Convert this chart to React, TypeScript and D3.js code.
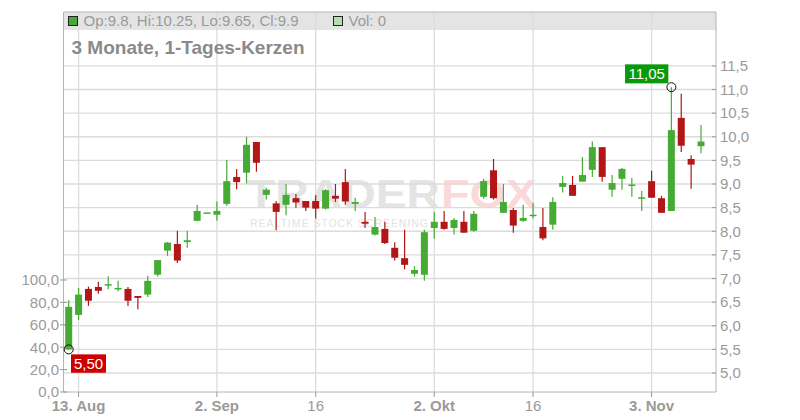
import React from 'react';
import * as d3 from 'd3';

const dates = [
  '2025-08-12','2025-08-13','2025-08-14','2025-08-15',
  '2025-08-18','2025-08-19','2025-08-20','2025-08-21','2025-08-22',
  '2025-08-25','2025-08-26','2025-08-27','2025-08-28','2025-08-29',
  '2025-09-01','2025-09-02','2025-09-03','2025-09-04','2025-09-05',
  '2025-09-08','2025-09-09','2025-09-10','2025-09-11','2025-09-12',
  '2025-09-15','2025-09-16','2025-09-17','2025-09-18','2025-09-19',
  '2025-09-22','2025-09-23','2025-09-24','2025-09-25','2025-09-26',
  '2025-09-29','2025-09-30','2025-10-01','2025-10-02','2025-10-03',
  '2025-10-06','2025-10-07','2025-10-08','2025-10-09','2025-10-10',
  '2025-10-13','2025-10-14','2025-10-15','2025-10-16','2025-10-17',
  '2025-10-20','2025-10-21','2025-10-22','2025-10-23','2025-10-24',
  '2025-10-27','2025-10-28','2025-10-29','2025-10-30','2025-10-31',
  '2025-11-03','2025-11-04','2025-11-05','2025-11-06','2025-11-07','2025-11-10',
];

const open = [
  5.50, 6.23, 6.78, 6.82, 6.86, 6.77, 6.78, 6.63, 6.66, 7.08,
  7.59, 7.73, 7.77, 8.22, 8.40, 8.35, 8.58, 9.15, 9.24, 9.89,
  8.77, 8.59, 8.56, 8.70, 8.64, 8.64, 8.48, 8.75, 9.04, 8.58,
  8.20, 7.93, 8.05, 7.65, 7.43, 7.10, 7.08, 8.07, 8.20, 8.07,
  8.20, 8.01, 8.73, 9.29, 8.39, 8.45, 8.22, 8.33, 8.09, 8.14,
  8.94, 8.98, 9.05, 9.30, 9.78, 8.88, 9.11, 8.97, 8.70, 9.06,
  8.70, 8.43, 10.40, 9.53, 9.80,
];
const high = [
  6.54, 6.80, 6.83, 6.93, 7.05, 6.95, 6.82, 6.63, 7.06, 7.39,
  7.77, 8.01, 8.01, 8.56, 8.40, 8.63, 9.51, 9.32, 10.00, 9.89,
  8.92, 8.64, 9.00, 8.79, 8.64, 8.77, 8.89, 9.00, 9.32, 8.71,
  8.41, 8.30, 8.20, 7.77, 8.03, 7.26, 8.03, 8.41, 8.43, 8.28,
  8.43, 8.43, 9.11, 9.53, 9.00, 8.49, 8.56, 8.60, 8.49, 8.72,
  9.17, 9.17, 9.57, 9.90, 9.78, 9.19, 9.34, 9.13, 8.85, 9.28,
  8.75, 11.05, 10.91, 9.61, 10.25,
];
const low = [
  5.50, 6.12, 6.42, 6.68, 6.77, 6.73, 6.42, 6.35, 6.61, 7.04,
  7.48, 7.33, 7.65, 8.22, 8.40, 8.22, 8.54, 8.89, 9.01, 9.26,
  8.67, 8.02, 8.34, 8.50, 8.43, 8.27, 8.46, 8.62, 8.56, 8.43,
  8.07, 7.91, 7.73, 7.38, 7.19, 7.04, 6.95, 7.84, 8.03, 7.93,
  7.97, 7.99, 8.69, 8.67, 8.39, 7.97, 8.20, 8.27, 7.81, 8.03,
  8.82, 8.75, 9.05, 9.15, 9.05, 8.73, 8.88, 8.73, 8.43, 8.71,
  8.39, 8.43, 9.68, 8.90, 9.65,
];
const close = [
  6.40, 6.66, 6.53, 6.74, 6.88, 6.80, 6.53, 6.59, 6.95, 7.39,
  7.76, 7.38, 7.81, 8.43, 8.40, 8.43, 9.06, 9.04, 9.83, 9.45,
  8.88, 8.41, 8.77, 8.61, 8.50, 8.48, 8.87, 8.69, 8.63, 8.62,
  8.16, 8.09, 7.75, 7.44, 7.29, 7.18, 7.98, 8.20, 8.05, 8.24,
  7.97, 8.37, 9.06, 8.70, 8.62, 8.12, 8.28, 8.35, 7.85, 8.62,
  9.02, 8.75, 9.19, 9.78, 9.15, 9.02, 9.32, 8.99, 8.72, 8.71,
  8.39, 10.14, 9.81, 9.41, 9.90,
];

const priceTicks = [5.0, 5.5, 6.0, 6.5, 7.0, 7.5, 8.0, 8.5, 9.0, 9.5, 10.0, 10.5, 11.0, 11.5];
const volTicks = [0, 20, 40, 60, 80, 100];
const xTickDates = ['2025-08-13', '2025-09-02', '2025-09-16', '2025-10-02', '2025-10-16', '2025-11-03'];
const xTickLabels = ['13. Aug', '2. Sep', '16', '2. Okt', '16', '3. Nov'];
const xTickBold = [true, true, false, true, false, true];

const legendText = 'Op:9.8, Hi:10.25, Lo:9.65, Cl:9.9';
const volText = 'Vol: 0';
const title = '3 Monate, 1-Tages-Kerzen';

const GREEN = '#45ab34';
const RED = '#b21616';
const GRID = '#dcdcdc';
const AXIS = '#b4b4b4';
const TXT = '#9a9a9a';
const FONT = '"Liberation Sans", Arial, Helvetica, sans-serif';

const L = 63.5, R = 716, T = 12, B = 392;

const fmt = (v: number) => d3.format('.1f')(v).replace('.', ',');
const fmt2 = (v: number) => d3.format('.2f')(v).replace('.', ',');

export default function App() {
  const n = dates.length;
  const x = d3.scaleLinear().domain([0, n - 1]).range([68.7, 701.0]);
  const y = d3.scaleLinear().domain([5, 11.5]).range([373, 65.9]);
  const yv = d3.scaleLinear().domain([0, 100]).range([392, 280]);
  const bw = 7;

  const hiI = d3.maxIndex(high);
  const loI = d3.minIndex(low);
  const hx = x(hiI), hy = y(high[hiI]);
  const lx = x(loI), ly = y(low[loI]);

  return (
    <svg width={800} height={420} style={{ position: 'absolute', left: 0, top: 0, background: '#fff' }} fontFamily={FONT}>
      {/* legend bar */}
      <rect x={L} y={T} width={R - L} height={18} fill="#e4e4e4" />
      {/* watermark */}
      <g fontWeight="bold">
        <text x={247} y={207.5} fontSize={41} fill="#e4e4e4" textLength={193} lengthAdjust="spacingAndGlyphs">TRADER</text>
        <text x={441} y={207.5} fontSize={41} fill="#fbd9d9" textLength={96} lengthAdjust="spacingAndGlyphs">FOX</text>
        <text x={250} y={226.5} fontSize={10.5} fontWeight="normal" fill="#e2e2e2" textLength={178} lengthAdjust="spacing">REALTIME STOCK SCREENING</text>
      </g>
      {/* horizontal grid */}
      {priceTicks.map((t) => (
        <line key={'hg' + t} x1={L} x2={R} y1={y(t)} y2={y(t)} stroke={GRID} strokeWidth={1.3} />
      ))}
      {/* vertical grid */}
      {xTickDates.map((d) => {
        const xx = x(dates.indexOf(d));
        return <line key={'vg' + d} x1={xx} x2={xx} y1={T} y2={B} stroke={GRID} strokeWidth={1.3} />;
      })}
      {/* frame / axes */}
      <line x1={L} x2={R} y1={T} y2={T} stroke={AXIS} />
      <line x1={L} x2={L} y1={T} y2={B} stroke={AXIS} />
      <line x1={R} x2={R} y1={T} y2={B} stroke={AXIS} />
      <line x1={L} x2={R} y1={B} y2={B} stroke={AXIS} />
      {/* legend */}
      <rect x={68.5} y={16.5} width={9} height={9} fill={GREEN} stroke="#222" />
      <text x={83.5} y={26} fontSize={15} fill={TXT}>{legendText}</text>
      <rect x={333.5} y={16.5} width={9} height={9} fill="#b3e0b0" stroke="#222" />
      <text x={348.5} y={26} fontSize={15} fill={TXT}>{volText}</text>
      {/* title */}
      <text x={71.5} y={54.3} fontSize={19} fontWeight="bold" fill="#8a8a8a">{title}</text>
      {/* right axis */}
      {priceTicks.map((t) => (
        <g key={'ra' + t}>
          <line x1={R - 4} x2={R} y1={y(t)} y2={y(t)} stroke="#999" />
          <text x={720} y={y(t) + 5.3} fontSize={15} fill={TXT}>{fmt(t)}</text>
        </g>
      ))}
      {/* left axis */}
      {volTicks.map((t) => (
        <g key={'la' + t}>
          <line x1={L - 3.5} x2={L + 3.5} y1={yv(t)} y2={yv(t)} stroke="#999" />
          <text x={59} y={yv(t) + 5.3} fontSize={15} fill={TXT} textAnchor="end">{fmt(t)}</text>
        </g>
      ))}
      {/* bottom axis */}
      {xTickDates.map((d, i) => {
        const xx = x(dates.indexOf(d));
        return (
          <g key={'ba' + d}>
            <line x1={xx} x2={xx} y1={B} y2={B + 5} stroke="#999" />
            <text x={xx} y={411} fontSize={15} fill={TXT} textAnchor="middle" fontWeight={xTickBold[i] ? 'bold' : 'normal'}>{xTickLabels[i]}</text>
          </g>
        );
      })}
      {/* candles */}
      {dates.map((d, i) => {
        const up = close[i] >= open[i];
        const c = up ? GREEN : RED;
        const xx = x(i);
        const top = y(Math.max(open[i], close[i]));
        const bot = y(Math.min(open[i], close[i]));
        const h = Math.max(bot - top, 1.5);
        return (
          <g key={d}>
            <line x1={xx} x2={xx} y1={y(high[i])} y2={y(low[i])} stroke={c} strokeWidth={1.2} />
            <rect x={xx - bw / 2} y={top} width={bw} height={h} fill={c} />
          </g>
        );
      })}
      {/* high marker */}
      <circle cx={hx} cy={hy} r={4.5} fill="none" stroke="#111" strokeWidth={1} />
      <rect x={hx - 46.3} y={hy - 22.8} width={43.3} height={19} fill="#0a990a" />
      <text x={hx - 24.6} y={hy - 7.8} fontSize={15} fill="#fff" textAnchor="middle">{fmt2(high[hiI])}</text>
      {/* low marker */}
      <circle cx={lx} cy={ly} r={4.5} fill="none" stroke="#111" strokeWidth={1} />
      <rect x={lx + 2.3} y={ly + 5} width={35} height={18.4} fill="#cc0000" />
      <text x={lx + 19.8} y={ly + 19.7} fontSize={15} fill="#fff" textAnchor="middle">{fmt2(low[loI])}</text>
    </svg>
  );
}
